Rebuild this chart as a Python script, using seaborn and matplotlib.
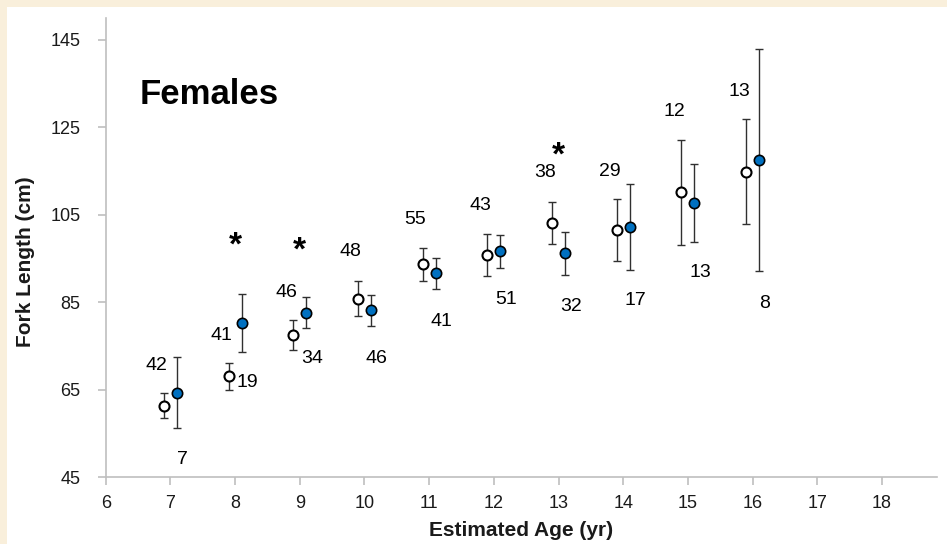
import numpy as np
import pandas as pd
import matplotlib
matplotlib.use('Agg')
import matplotlib.pyplot as plt
import seaborn as sns
from matplotlib.patches import Rectangle

#%% data
ages = [7, 8, 9, 10, 11, 12, 13, 14, 15, 16]
open_mean = [61.3, 68.0, 77.5, 85.8, 93.7, 95.8, 103.1, 101.5, 110.1, 114.8]
open_err = [2.9, 3.0, 3.5, 4.0, 3.8, 4.9, 4.7, 7.0, 12.0, 12.0]
filled_mean = [64.3, 80.3, 82.6, 83.1, 91.6, 96.6, 96.2, 102.2, 107.7, 117.5]
filled_err = [8.2, 6.6, 3.5, 3.5, 3.6, 3.8, 4.9, 9.8, 9.0, 25.4]

# sample sizes (upper-left and lower-right labels) and their heights
n_upper = [42, 41, 46, 48, 55, 43, 38, 29, 12, 13]
n_upper_y = [70.4, 77.3, 87.3, 96.5, 104.0, 107.2, 114.6, 114.8, 128.5, 133.3]
n_lower = [7, 19, 34, 46, 41, 51, 32, 17, 13, 8]
n_lower_y = [48.9, 66.7, 72.0, 72.2, 80.5, 85.7, 84.1, 85.3, 91.7, 84.8]

# significant ages
star_ages = [8, 9, 13]
star_y = [97.8, 96.7, 118.4]

#%% style
sns.set_style('white')
plt.rcParams['font.family'] = ['Liberation Sans', 'DejaVu Sans']

fig = plt.figure(figsize=(9.47, 5.44), dpi=100)
fig.patch.set_facecolor('#F9EFDB')
fig.patches.append(Rectangle((7 / 947, 0), 1, 537 / 544, transform=fig.transFigure,
                             facecolor='white', edgecolor='none', zorder=-10))
ax = fig.add_axes([105.7 / 947, 67 / 544, (937 - 105.7) / 947, (477 - 18) / 544])
ax.set_facecolor('white')

df_open = pd.DataFrame({'age': np.array(ages) - 0.1, 'fl': open_mean, 'err': open_err})
df_fill = pd.DataFrame({'age': np.array(ages) + 0.1, 'fl': filled_mean, 'err': filled_err})

# error bars
ax.errorbar(df_open['age'], df_open['fl'], yerr=df_open['err'], fmt='none',
            ecolor='#303030', elinewidth=1, capsize=3, capthick=1, zorder=2)
ax.errorbar(df_fill['age'], df_fill['fl'], yerr=df_fill['err'], fmt='none',
            ecolor='#303030', elinewidth=1, capsize=3, capthick=1, zorder=2)

# points
sns.scatterplot(data=df_open, x='age', y='fl', ax=ax, s=52, color='white',
                edgecolor='black', linewidth=1.5, zorder=3)
sns.scatterplot(data=df_fill, x='age', y='fl', ax=ax, s=55, color='#0070C0',
                edgecolor='black', linewidth=1.2, zorder=3)

# sample size labels
for a, n, y in zip(ages, n_upper, n_upper_y):
    ax.text(a - 0.21, y, str(n), ha='center', va='center', fontsize=14, color='black')
for a, n, y in zip(ages, n_lower, n_lower_y):
    ax.text(a + 0.19, y, str(n), ha='center', va='center', fontsize=14, color='black')

for a, y in zip(star_ages, star_y):
    ax.text(a, y, '*', ha='center', va='center', fontsize=24, fontweight='bold', color='black')

ax.text(6.53, 132.6, 'Females', fontsize=25, fontweight='bold', ha='left', va='center',
        color='black')

#%% axes
ax.set_xlim(6, 18.85)
ax.set_ylim(45, 150)
ax.set_xticks(range(6, 19))
ax.set_yticks(range(45, 146, 20))
sns.despine(ax=ax)
for s in ['left', 'bottom']:
    ax.spines[s].set_color('#BFBFBF')
    ax.spines[s].set_linewidth(1.2)
ax.tick_params(axis='both', direction='out', length=6, width=1.2, color='#BFBFBF',
               labelsize=13, labelcolor='#1a1a1a', bottom=True, left=True)
ax.tick_params(axis='y', pad=12)
ax.tick_params(axis='x', pad=7)

ax.set_xlabel('Estimated Age (yr)', fontsize=15, fontweight='bold', color='#1a1a1a')
ax.set_ylabel('Fork Length (cm)', fontsize=15, fontweight='bold', color='#1a1a1a')
ax.xaxis.set_label_coords(0.5, -0.095)
ax.yaxis.set_label_coords(-0.085, 0.47)

fig.savefig('out.png', dpi=100, facecolor=fig.get_facecolor())
